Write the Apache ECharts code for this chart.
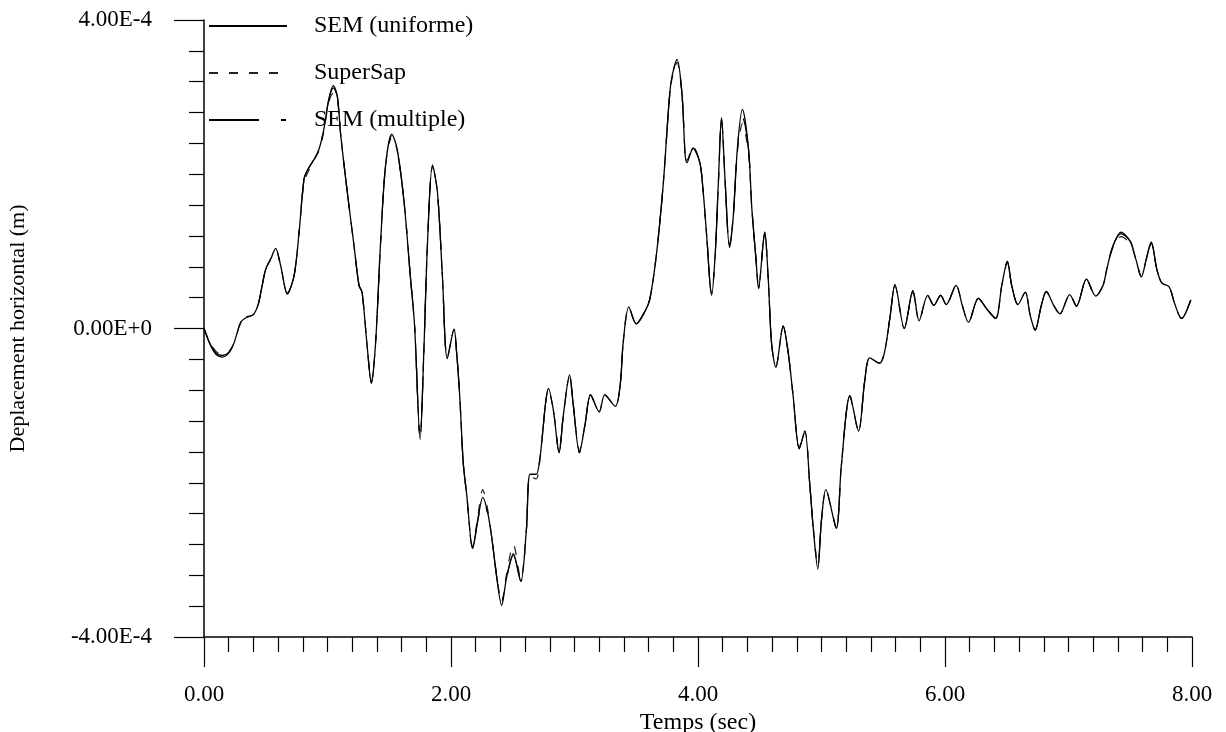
<!DOCTYPE html>
<html>
<head>
<meta charset="utf-8">
<title>Deplacement horizontal</title>
<script src="https://cdn.jsdelivr.net/npm/echarts@6/dist/echarts.min.js"></script>
<style>
  html, body { margin: 0; padding: 0; background: #fff; }
  #main { width: 1226px; height: 732px; }
</style>
</head>
<body>
<div id="main"></div>
<script>
// temps (sec) -- shared by the three curves
var temps = [0.00,0.05,0.10,0.15,0.20,0.24,0.27,0.30,0.34,0.40,0.44,0.47,0.50,0.54,0.58,0.62,0.675,0.73,0.77,0.81,
  0.84,0.89,0.93,0.97,1.01,1.047,1.08,1.105,1.16,1.215,1.255,1.28,1.32,1.355,1.39,1.43,1.47,1.52,1.565,1.62,
  1.67,1.705,1.75,1.78,1.81,1.85,1.89,1.93,1.97,2.025,2.045,2.07,2.10,2.127,2.175,2.22,2.257,2.295,2.33,2.37,
  2.41,2.45,2.505,2.565,2.61,2.64,2.69,2.72,2.79,2.83,2.875,2.91,2.96,2.99,3.04,3.085,3.13,3.20,3.245,3.33,
  3.37,3.395,3.44,3.50,3.57,3.61,3.665,3.72,3.76,3.785,3.83,3.87,3.895,3.91,3.96,4.015,4.04,4.07,4.11,4.14,
  4.165,4.19,4.22,4.255,4.285,4.32,4.36,4.41,4.435,4.47,4.49,4.54,4.57,4.595,4.63,4.69,4.73,4.77,4.82,4.865,
  4.905,4.935,4.97,5.00,5.035,5.12,5.16,5.23,5.30,5.35,5.39,5.47,5.51,5.555,5.595,5.67,5.74,5.79,5.86,5.91,
  5.965,6.01,6.09,6.14,6.19,6.27,6.34,6.41,6.46,6.505,6.54,6.59,6.65,6.69,6.73,6.78,6.82,6.88,6.93,7.01,
  7.065,7.145,7.22,7.28,7.31,7.36,7.425,7.50,7.545,7.59,7.63,7.67,7.715,7.755,7.815,7.86,7.915,7.99];

// deplacements en 1E-4 m
var semUniforme = [0.00,-0.20,-0.32,-0.35,-0.31,-0.20,-0.05,0.09,0.14,0.18,0.32,0.55,0.77,0.90,1.04,0.82,0.45,0.69,1.25,1.94,
  2.06,2.19,2.32,2.58,2.97,3.15,3.01,2.54,1.77,1.07,0.56,0.47,-0.21,-0.71,-0.17,1.12,2.11,2.52,2.32,1.64,
  0.69,0.04,-1.44,-0.30,1.12,2.12,1.77,0.69,-0.39,-0.01,-0.30,-0.86,-1.76,-2.15,-2.85,-2.45,-2.19,-2.37,-2.71,-3.23,
  -3.59,-3.23,-2.92,-3.28,-2.62,-1.89,-1.89,-1.68,-0.78,-1.07,-1.61,-1.12,-0.60,-0.99,-1.61,-1.25,-0.86,-1.08,-0.86,-1.01,
  -0.73,-0.17,0.28,0.06,0.22,0.38,0.98,1.90,2.82,3.23,3.49,3.05,2.27,2.15,2.34,2.15,1.81,1.21,0.43,0.98,
  1.90,2.73,1.90,1.05,1.44,2.36,2.84,2.31,1.58,0.89,0.52,1.25,0.61,-0.18,-0.50,0.03,-0.31,-0.87,-1.56,-1.33,
  -2.02,-2.62,-3.12,-2.48,-2.09,-2.59,-1.79,-0.87,-1.33,-0.68,-0.38,-0.45,-0.31,0.15,0.57,0.00,0.49,0.10,0.43,0.30,
  0.43,0.31,0.56,0.30,0.08,0.39,0.25,0.13,0.56,0.87,0.56,0.31,0.47,0.17,-0.02,0.30,0.48,0.30,0.19,0.44,
  0.29,0.64,0.42,0.56,0.77,1.07,1.23,1.13,0.90,0.67,0.90,1.12,0.77,0.59,0.54,0.32,0.13,0.37];

var superSap = [0.00,-0.19,-0.30,-0.33,-0.30,-0.20,-0.05,0.10,0.15,0.18,0.32,0.55,0.77,0.90,1.02,0.82,0.46,0.69,1.24,1.90,
  2.02,2.18,2.30,2.55,2.93,3.05,2.96,2.54,1.77,1.07,0.56,0.47,-0.21,-0.69,-0.17,1.12,2.11,2.50,2.30,1.64,
  0.69,0.04,-1.42,-0.30,1.12,2.10,1.77,0.69,-0.38,-0.01,-0.30,-0.86,-1.76,-2.15,-2.83,-2.40,-2.09,-2.33,-2.71,-3.20,
  -3.55,-3.18,-2.80,-3.25,-2.62,-1.92,-1.95,-1.70,-0.80,-1.07,-1.58,-1.12,-0.62,-0.99,-1.58,-1.25,-0.86,-1.08,-0.86,-1.01,
  -0.73,-0.17,0.28,0.06,0.22,0.38,0.98,1.90,2.80,3.20,3.45,3.03,2.30,2.18,2.36,2.15,1.81,1.21,0.45,0.98,
  1.88,2.70,1.90,1.08,1.44,2.30,2.66,2.25,1.58,0.89,0.54,1.22,0.61,-0.18,-0.50,0.03,-0.31,-0.87,-1.54,-1.33,
  -2.02,-2.60,-3.08,-2.48,-2.11,-2.57,-1.79,-0.89,-1.33,-0.68,-0.38,-0.45,-0.31,0.15,0.55,0.00,0.47,0.10,0.43,0.30,
  0.43,0.31,0.56,0.30,0.08,0.39,0.25,0.13,0.56,0.85,0.56,0.31,0.47,0.17,-0.02,0.30,0.48,0.30,0.19,0.44,
  0.29,0.64,0.42,0.56,0.77,1.05,1.19,1.10,0.90,0.67,0.90,1.10,0.77,0.59,0.54,0.32,0.13,0.37];

var semMultiple = [0.00,-0.21,-0.34,-0.37,-0.32,-0.20,-0.05,0.08,0.13,0.18,0.32,0.55,0.77,0.90,1.04,0.82,0.45,0.69,1.25,1.94,
  2.06,2.19,2.32,2.58,2.96,3.12,3.00,2.54,1.77,1.07,0.56,0.47,-0.21,-0.71,-0.17,1.12,2.11,2.48,2.30,1.64,
  0.69,0.04,-1.44,-0.30,1.12,2.12,1.77,0.69,-0.39,-0.01,-0.30,-0.86,-1.76,-2.15,-2.85,-2.47,-2.22,-2.39,-2.71,-3.21,
  -3.55,-3.23,-2.94,-3.28,-2.62,-1.89,-1.89,-1.68,-0.78,-1.07,-1.61,-1.12,-0.60,-0.99,-1.61,-1.25,-0.86,-1.08,-0.86,-1.01,
  -0.73,-0.17,0.28,0.06,0.22,0.38,0.98,1.90,2.82,3.23,3.48,3.05,2.27,2.15,2.34,2.15,1.81,1.21,0.43,0.98,
  1.90,2.73,1.90,1.05,1.44,2.36,2.74,2.31,1.58,0.89,0.52,1.25,0.61,-0.18,-0.50,0.03,-0.31,-0.87,-1.56,-1.33,
  -2.02,-2.62,-3.08,-2.48,-2.09,-2.59,-1.79,-0.87,-1.33,-0.68,-0.38,-0.45,-0.31,0.15,0.57,0.00,0.49,0.10,0.43,0.30,
  0.43,0.31,0.56,0.30,0.08,0.39,0.25,0.13,0.56,0.87,0.56,0.31,0.47,0.17,-0.02,0.30,0.48,0.30,0.19,0.44,
  0.29,0.64,0.42,0.56,0.77,1.07,1.25,1.13,0.90,0.67,0.90,1.12,0.77,0.59,0.54,0.32,0.13,0.37];

var seriesNames = ['SEM (uniforme)', 'SuperSap', 'SEM (multiple)'];
var UNIT = 1e-4; // les tableaux sont en 1E-4 m

// paires [temps, deplacement] pour echarts
function toPairs(values) {
  return temps.map(function (t, i) { return [t, values[i] * UNIT]; });
}

var serif = 'Liberation Serif';

var myChart = echarts.init(document.getElementById('main'));

var option = {
  animation: false,
  backgroundColor: '#fff',
  textStyle: { fontFamily: serif, color: '#000' },
  grid: { left: 204, right: 34, top: 20, bottom: 95, outerBoundsMode: 'none' },
  legend: {
    orient: 'vertical',
    left: 203,
    top: 8,
    itemWidth: 78,
    itemHeight: 10,
    itemGap: 21,
    data: seriesNames,
    itemStyle: { opacity: 0 },  // pas de symbole, juste le trait
    textStyle: { fontFamily: serif, fontSize: 24, color: '#000', lineHeight: 26, padding: [0, 0, 0, 22] }
  },
  xAxis: {
    type: 'value',
    min: 0,
    max: 8,
    interval: 2,
    name: 'Temps (sec)',
    nameLocation: 'middle',
    nameGap: 70,
    nameTextStyle: { fontFamily: serif, fontSize: 24, color: '#000' },
    axisLine: { onZero: false, lineStyle: { color: '#000', width: 1.5 } },
    axisTick: { show: true, length: 30, lineStyle: { color: '#000', width: 1.2 } },
    minorTick: { show: true, splitNumber: 10, length: 15, lineStyle: { color: '#000', width: 1.2 } },
    axisLabel: {
      margin: 46,
      fontFamily: serif,
      fontSize: 23,
      color: '#000',
      formatter: function (v) { return v.toFixed(2); }
    },
    splitLine: { show: false }
  },
  yAxis: {
    type: 'value',
    min: -4e-4,
    max: 4e-4,
    interval: 4e-4,
    name: 'Deplacement horizontal (m)',
    nameLocation: 'middle',
    nameGap: 175,
    nameTextStyle: { fontFamily: serif, fontSize: 22, color: '#000' },
    axisLine: { show: true, lineStyle: { color: '#000', width: 1.5 } },
    axisTick: { show: true, length: 30, lineStyle: { color: '#000', width: 1.2 } },
    minorTick: { show: true, splitNumber: 10, length: 15, lineStyle: { color: '#000', width: 1.2 } },
    axisLabel: {
      margin: 52,
      fontFamily: serif,
      fontSize: 23,
      color: '#000',
      formatter: function (v) { return v.toExponential(2).toUpperCase(); }
    },
    splitLine: { show: false }
  },
  series: [
    {
      name: seriesNames[0],
      type: 'line',
      symbol: 'none',
      smooth: 0.3,
      data: toPairs(semUniforme),
      lineStyle: { color: '#000', width: 1.3, type: 'solid' },
      itemStyle: { color: '#000' },
      z: 3
    },
    {
      name: seriesNames[1],
      type: 'line',
      symbol: 'none',
      smooth: 0.3,
      data: toPairs(superSap),
      lineStyle: { color: '#222', width: 1.2, type: [9, 11] },
      itemStyle: { color: '#222' },
      z: 2
    },
    {
      name: seriesNames[2],
      type: 'line',
      symbol: 'none',
      smooth: 0.3,
      data: toPairs(semMultiple),
      lineStyle: { color: '#000', width: 1.2, type: [50, 22, 5, 22] },
      itemStyle: { color: '#000' },
      z: 2
    }
  ]
};

myChart.setOption(option);
</script>
</body>
</html>
